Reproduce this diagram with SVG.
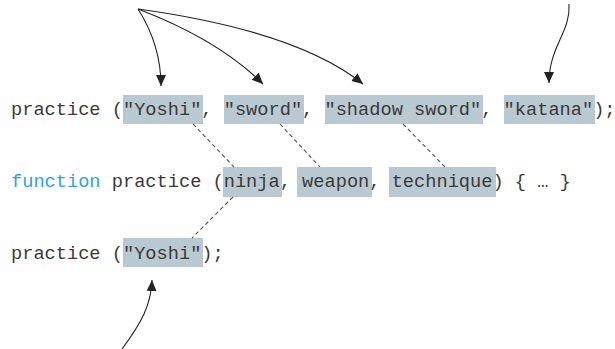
<svg xmlns="http://www.w3.org/2000/svg" width="615" height="349" viewBox="0 0 615 349">
  <defs>
    <marker id="ah" markerUnits="userSpaceOnUse" markerWidth="12" markerHeight="11" refX="11" refY="5" orient="auto">
      <path d="M0,0 L11,5 L0,10 Z" fill="#222"/>
    </marker>
    <style>
      .code { font-family: "Liberation Mono", "Courier New", monospace; font-size: 18.67px; fill: #3a3a3a; white-space: pre; }
      .kw { fill: #2ba6dc; }
      .hl { fill: #b9c9d1; }
      .dash { fill: none; stroke: #555; stroke-width: 1.1; stroke-dasharray: 4 3; }
      .arr { fill: none; stroke: #222; stroke-width: 1.1; marker-end: url(#ah); }
    </style>
  </defs>
  <rect width="615" height="349" fill="#fff"/>

  <g id="call-full">
    <rect class="hl" x="123" y="95" width="80" height="29"/>
    <rect class="hl" x="224" y="95" width="80" height="29"/>
    <rect class="hl" x="325" y="95" width="158" height="29"/>
    <rect class="hl" x="504" y="95" width="91" height="29"/>
    <text class="code" x="11" y="115" xml:space="preserve">practice ("Yoshi", "sword", "shadow sword", "katana");</text>
  </g>

  <g id="declaration">
    <rect class="hl" x="223" y="167" width="59" height="30"/>
    <rect class="hl" x="297" y="167" width="75" height="30"/>
    <rect class="hl" x="389" y="167" width="107" height="30"/>
    <text class="code" x="11" y="187" xml:space="preserve"><tspan class="kw">function</tspan> practice (ninja, weapon, technique) { … }</text>
  </g>

  <g id="call-short">
    <rect class="hl" x="123" y="238" width="80" height="29"/>
    <text class="code" x="11" y="259" xml:space="preserve">practice ("Yoshi");</text>
  </g>

  <g id="connectors">
    <line class="dash" x1="193" y1="124" x2="234" y2="167"/>
    <line class="dash" x1="280" y1="124" x2="320" y2="167"/>
    <line class="dash" x1="403" y1="124" x2="445" y2="167"/>
    <line class="dash" x1="233" y1="197" x2="192" y2="238"/>

    <path class="arr" d="M138,9 Q161,45 161,86"/>
    <path class="arr" d="M138,9 Q219,40 263,84"/>
    <path class="arr" d="M138,9 Q297,31 363,84"/>
    <path class="arr" d="M569,4 C571,32 549,46 549,83"/>
    <path class="arr" d="M122,349 C142,322 151,305 152,280"/>
  </g>
</svg>
